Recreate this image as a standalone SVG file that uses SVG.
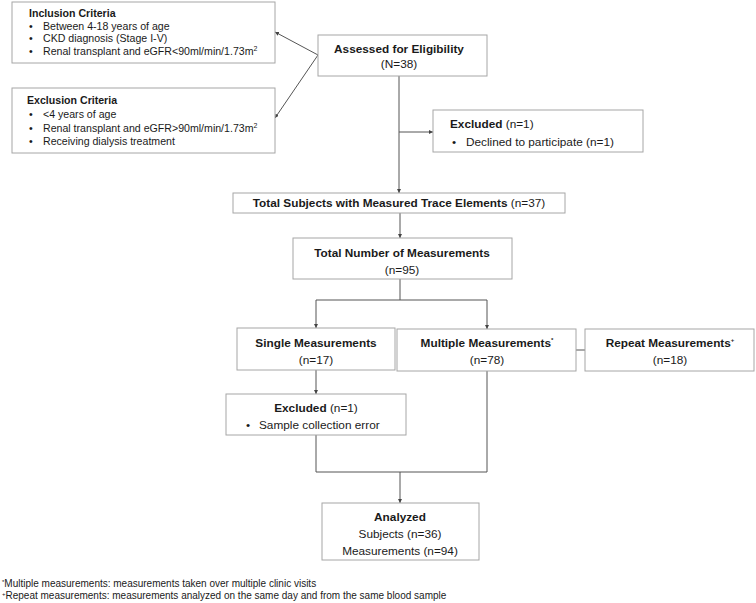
<svg xmlns="http://www.w3.org/2000/svg" width="756" height="603" viewBox="0 0 756 603">
<defs>
<marker id="arr" viewBox="0 0 6 6" refX="6" refY="3" markerWidth="4" markerHeight="4" orient="auto">
<path d="M0,0 L6,3 L0,6 z" fill="#444"/>
</marker>
<style>
.box{fill:#fff;stroke:#a6a6a6;stroke-width:1}
.t{font-family:"Liberation Sans",Arial,sans-serif;font-size:11.8px;fill:#1a1a1a}
.b{font-weight:bold}
.s{font-size:10.6px}
.f{font-size:10px}
.c{text-anchor:middle}
.ln{fill:none;stroke:#555;stroke-width:1}
</style>
</defs>
<rect width="756" height="603" fill="#fff"/>
<g id="connectors">
<path class="ln" d="M318,55 L275,32" marker-end="url(#arr)"/>
<path class="ln" d="M318,55 L275,118" marker-end="url(#arr)"/>
<path class="ln" d="M399,76 L399,193" marker-end="url(#arr)"/>
<path class="ln" d="M399,132 L433,132" marker-end="url(#arr)"/>
<path class="ln" d="M400,213 L400,238" marker-end="url(#arr)"/>
<path class="ln" d="M400,279 L400,300"/>
<path class="ln" d="M316,300 L487,300"/>
<path class="ln" d="M316,300 L316,328" marker-end="url(#arr)"/>
<path class="ln" d="M487,300 L487,329" marker-end="url(#arr)"/>
<path class="ln" d="M576,350 L585,350"/>
<path class="ln" d="M316,370 L316,394" marker-end="url(#arr)"/>
<path class="ln" d="M316,435 L316,472 L487,472"/>
<path class="ln" d="M487,371 L487,472"/>
<path class="ln" d="M400,472 L400,503" marker-end="url(#arr)"/>
</g>
<g id="inclusion">
<rect class="box" x="12" y="2" width="263" height="61"/>
<text class="t s b" x="29" y="17">Inclusion Criteria</text>
<text class="t s" x="29" y="30">•</text><text class="t s" x="43" y="30">Between 4-18 years of age</text>
<text class="t s" x="29" y="42">•</text><text class="t s" x="43" y="42">CKD diagnosis (Stage I-V)</text>
<text class="t s" x="29" y="55">•</text><text class="t s" x="43" y="55">Renal transplant and eGFR&lt;90ml/min/1.73m<tspan font-size="7" dy="-4">2</tspan></text>
</g>
<g id="exclusion">
<rect class="box" x="12" y="88" width="263" height="65"/>
<text class="t s b" x="27" y="104">Exclusion Criteria</text>
<text class="t s" x="29" y="118">•</text><text class="t s" x="43" y="118">&lt;4 years of age</text>
<text class="t s" x="29" y="132">•</text><text class="t s" x="43" y="132">Renal transplant and eGFR&gt;90ml/min/1.73m<tspan font-size="7" dy="-4">2</tspan></text>
<text class="t s" x="29" y="145">•</text><text class="t s" x="43" y="145">Receiving dialysis treatment</text>
</g>
<g id="assessed">
<rect class="box" x="318" y="35" width="169" height="41"/>
<text class="t b c" x="399" y="53">Assessed for Eligibility</text>
<text class="t c" x="399" y="68">(N=38)</text>
</g>
<g id="excluded1">
<rect class="box" x="433" y="110" width="210" height="42"/>
<text class="t" x="450" y="128"><tspan class="b">Excluded</tspan> (n=1)</text>
<text class="t" x="452" y="146">•</text><text class="t" x="466" y="146">Declined to participate (n=1)</text>
</g>
<g id="total-subjects">
<rect class="box" x="233" y="193" width="332" height="20"/>
<text class="t c" x="399" y="207"><tspan class="b">Total Subjects with Measured Trace Elements</tspan> (n=37)</text>
</g>
<g id="total-measurements">
<rect class="box" x="293" y="238" width="219" height="41"/>
<text class="t b c" x="402" y="257">Total Number of Measurements</text>
<text class="t c" x="402" y="274">(n=95)</text>
</g>
<g id="single">
<rect class="box" x="237" y="328" width="158" height="42"/>
<text class="t b c" x="316" y="347">Single Measurements</text>
<text class="t c" x="316" y="364">(n=17)</text>
</g>
<g id="multiple">
<rect class="box" x="397" y="329" width="179" height="42"/>
<text class="t b c" x="487" y="347">Multiple Measurements<tspan font-size="6" dy="-5">*</tspan></text>
<text class="t c" x="487" y="364">(n=78)</text>
</g>
<g id="repeat">
<rect class="box" x="585" y="329" width="169" height="42"/>
<text class="t b c" x="670" y="347">Repeat Measurements<tspan font-size="6" dy="-5">+</tspan></text>
<text class="t c" x="670" y="364">(n=18)</text>
</g>
<g id="excluded2">
<rect class="box" x="226" y="394" width="180" height="41"/>
<text class="t c" x="316" y="412"><tspan class="b">Excluded</tspan> (n=1)</text>
<text class="t" x="246" y="429">•</text><text class="t" x="259" y="429">Sample collection error</text>
</g>
<g id="analyzed">
<rect class="box" x="322" y="503" width="157" height="57"/>
<text class="t b c" x="400" y="521">Analyzed</text>
<text class="t c" x="400" y="538">Subjects (n=36)</text>
<text class="t c" x="400" y="555">Measurements (n=94)</text>
</g>
<g id="footnotes">
<text class="t f" x="2" y="587"><tspan font-size="6" dy="-3">*</tspan><tspan dy="3">Multiple measurements: measurements taken over multiple clinic visits</tspan></text>
<text class="t f" x="2" y="599"><tspan font-size="6" dy="-3">+</tspan><tspan dy="3">Repeat measurements: measurements analyzed on the same day and from the same blood sample</tspan></text>
</g>
</svg>
